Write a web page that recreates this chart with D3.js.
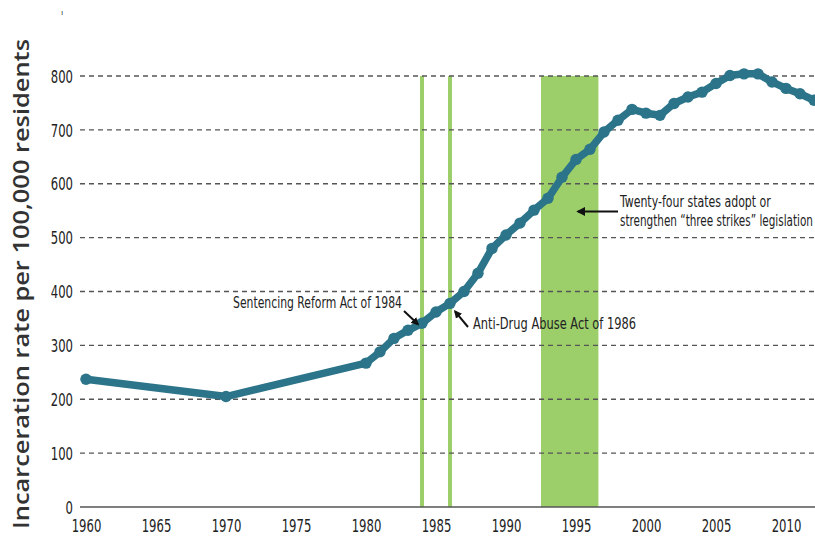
<!DOCTYPE html>
<html><head><meta charset="utf-8">
<script src="https://cdn.jsdelivr.net/npm/d3@7"></script>
<style>
html,body{margin:0;padding:0;background:#fff;overflow:hidden}
.tk,.an{font-family:"Liberation Sans Narrow","DejaVu Sans Condensed",sans-serif;font-stretch:condensed;fill:#222}
</style></head>
<body>
<svg id="c" width="815" height="542"></svg>
<script>
const years = [1960,1970,1980,1981,1982,1983,1984,1985,1986,1987,1988,1989,1990,1991,1992,1993,1994,1995,1996,1997,1998,1999,2000,2001,2002,2003,2004,2005,2006,2007,2008,2009,2010,2011,2012];
const rates = [237,205,267,288,313,328,341,362,378,400,434,480,505,527,551,573,612,645,664,696,718,738,731,727,749,761,770,786,801,804,804,789,777,767,755];
const xTicks = [1960,1965,1970,1975,1980,1985,1990,1995,2000,2005,2010];
const yTicks = [0,100,200,300,400,500,600,700,800];
const lawYears = [1984,1986];
const strikesBand = [1992.5,1996.6];
const yLabel = "Incarceration rate per 100,000 residents";
const notes = [
  {lines:["Sentencing Reform Act of 1984"]},
  {lines:["Anti-Drug Abuse Act of 1986"]},
  {lines:["Twenty-four states adopt or","strengthen \u201cthree strikes\u201d legislation"]}
];

const svg = d3.select("#c");
const x = d3.scaleLinear().domain([1960,2012]).range([86,814]);
const y = d3.scaleLinear().domain([0,800]).range([507,76]);

svg.append("defs").append("marker").attr("id","ah").attr("viewBox","0 0 10 10")
  .attr("refX",8).attr("refY",5).attr("markerWidth",4).attr("markerHeight",4)
  .attr("orient","auto").append("path").attr("d","M0,0L10,5L0,10z").attr("fill","#111");

const green = "#9ccf6a";
svg.selectAll(".law").data(lawYears).join("rect")
  .attr("x",d=>x(d)-2).attr("width",4)
  .attr("y",y(800)).attr("height",y(0)-y(800)).attr("fill",green);
svg.append("rect").attr("x",x(strikesBand[0])).attr("width",x(strikesBand[1])-x(strikesBand[0]))
  .attr("y",y(800)).attr("height",y(0)-y(800)).attr("fill",green);

svg.selectAll(".grid").data(yTicks.filter(d=>d>0)).join("line")
  .attr("x1",80).attr("x2",815).attr("y1",d=>y(d)).attr("y2",d=>y(d))
  .attr("stroke","#555").attr("stroke-width",1.4).attr("stroke-dasharray","5,4");
svg.append("line").attr("x1",80).attr("x2",815).attr("y1",y(0)).attr("y2",y(0))
  .attr("stroke","#555").attr("stroke-width",1.6);

const digitW = 7.4;
const yAxis = d3.axisLeft(y).tickValues(yTicks).tickSize(0).tickPadding(0);
const yg = svg.append("g").attr("transform","translate(73,0)").call(yAxis);
yg.select(".domain").remove();
yg.selectAll("text").attr("class","tk").attr("font-size",17).attr("dy","0.36em")
  .attr("textLength",d=>String(d).length*digitW).attr("lengthAdjust","spacingAndGlyphs");

const xAxis = d3.axisBottom(x).tickValues(xTicks).tickFormat(d3.format("d")).tickSize(0).tickPadding(0);
const xg = svg.append("g").attr("transform","translate(0,520)").call(xAxis);
xg.select(".domain").remove();
xg.selectAll("text").attr("class","tk").attr("font-size",17).attr("dy","0.72em")
  .attr("textLength",d=>String(d).length*digitW).attr("lengthAdjust","spacingAndGlyphs");

svg.append("text").attr("transform","translate(28.5,284) rotate(-90)")
  .attr("text-anchor","middle")
  .attr("font-family","'Open Sans','Noto Sans',sans-serif").attr("font-weight",600)
  .attr("font-size",21).attr("fill","#333")
  .attr("textLength",490).attr("lengthAdjust","spacingAndGlyphs").text(yLabel);

svg.append("text").attr("x",62).attr("y",15).attr("text-anchor","middle")
  .attr("font-size",8).attr("font-family","sans-serif").attr("fill","#333").text("\u0131");

const col = "#2b7489";
const pts = years.map((yr,i)=>[yr,rates[i]]);
svg.append("path").datum(pts)
  .attr("d",d3.line().x(d=>x(d[0])).y(d=>y(d[1])))
  .attr("fill","none").attr("stroke",col).attr("stroke-width",7.5).attr("stroke-linejoin","round");
svg.selectAll(".pt").data(pts).join("circle")
  .attr("cx",d=>x(d[0])).attr("cy",d=>y(d[1])).attr("r",5.7).attr("fill",col);

// annotation text squeezed horizontally to a target width
function note(str, px, py, w) {
  const t = svg.append("text").attr("class","an").attr("font-size",16).text(str);
  const nat = t.node().getComputedTextLength();
  t.attr("transform",`translate(${px},${py}) scale(${w/nat},1)`);
  return t;
}
note(notes[0].lines[0], 233, 308, 169);
svg.append("line").attr("x1",404).attr("y1",311).attr("x2",x(1984)-4).attr("y2",y(341)+1)
  .attr("stroke","#111").attr("stroke-width",2).attr("marker-end","url(#ah)");

note(notes[1].lines[0], 473, 329, 163);
svg.append("line").attr("x1",468).attr("y1",327).attr("x2",x(1986)+5).attr("y2",y(378)+8)
  .attr("stroke","#111").attr("stroke-width",2).attr("marker-end","url(#ah)");

note(notes[2].lines[0], 620, 207, 151);
note(notes[2].lines[1], 620, 226, 193);
svg.append("line").attr("x1",618).attr("y1",211.5).attr("x2",578).attr("y2",211.5)
  .attr("stroke","#111").attr("stroke-width",2.2).attr("marker-end","url(#ah)");
</script>
</body></html>
